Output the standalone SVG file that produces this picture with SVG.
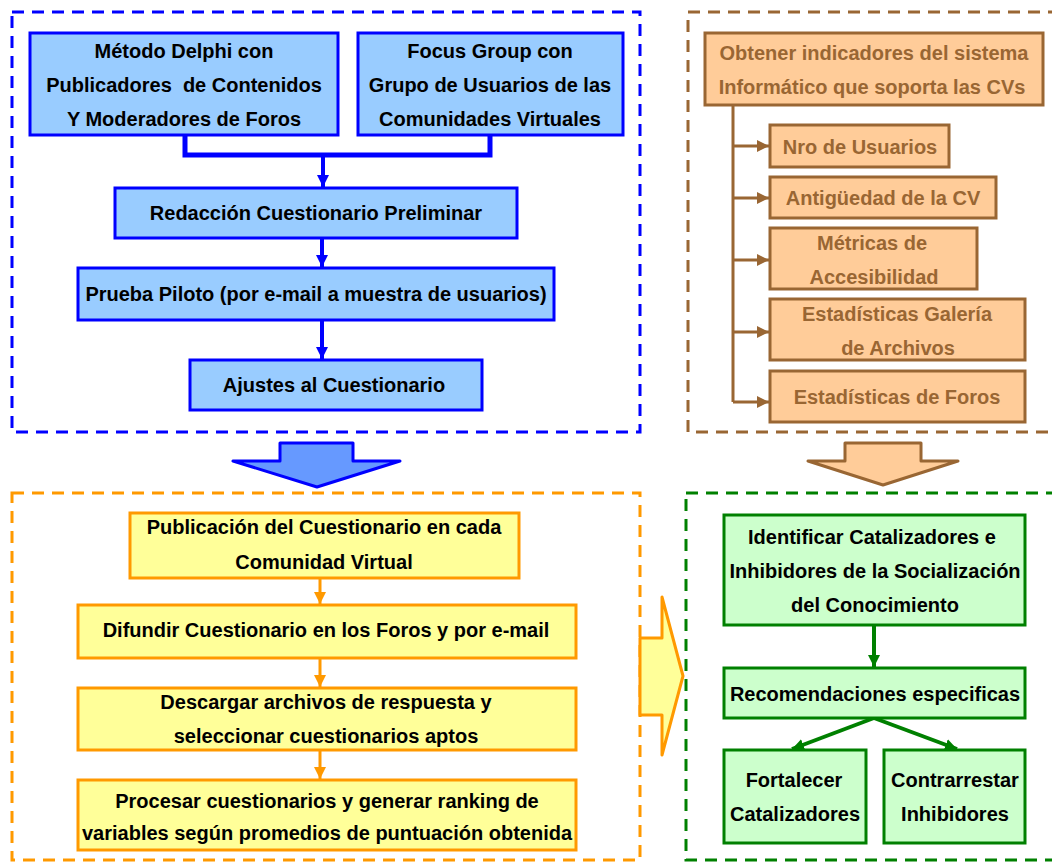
<svg xmlns="http://www.w3.org/2000/svg" width="1052" height="863" viewBox="0 0 1052 863">
<defs>
<style>
text{font-family:"Liberation Sans",Arial,sans-serif;font-weight:bold;font-size:20px;text-anchor:middle}
.fr{fill:none;stroke-width:3;stroke-dasharray:12 8}
.bn{fill:#99CCFF;stroke:#0000FF;stroke-width:3}
.yn{fill:#FFFF99;stroke:#FF9900;stroke-width:3}
.on{fill:#FFCC99;stroke:#996633;stroke-width:3}
.gn{fill:#CCFFCC;stroke:#008000;stroke-width:3}
.bt{fill:#000}
.ot{fill:#996633}
</style>
<marker id="ab" markerUnits="userSpaceOnUse" markerWidth="14" markerHeight="14" refX="12" refY="6" orient="auto"><path d="M0,0 L12,6 L0,12 z" fill="#0000FF"/></marker>
<marker id="ay" markerUnits="userSpaceOnUse" markerWidth="14" markerHeight="14" refX="12" refY="6" orient="auto"><path d="M0,0 L12,6 L0,12 z" fill="#FF9900"/></marker>
<marker id="ao" markerUnits="userSpaceOnUse" markerWidth="14" markerHeight="14" refX="12" refY="6" orient="auto"><path d="M0,0 L12,6 L0,12 z" fill="#996633"/></marker>
<marker id="ag" markerUnits="userSpaceOnUse" markerWidth="14" markerHeight="14" refX="12" refY="6" orient="auto"><path d="M0,0 L12,6 L0,12 z" fill="#008000"/></marker>
</defs>
<g id="frames">
<rect class="fr" x="12" y="12" width="628" height="420" stroke="#0000FF"/>
<rect class="fr" x="688" y="12" width="370" height="420" stroke="#996633"/>
<rect class="fr" x="12" y="493" width="628" height="367" stroke="#FF9900"/>
<rect class="fr" x="686" y="493" width="372" height="367" stroke="#008000"/>
</g>
<g id="bigarrows">
<polygon points="280,443 353,443 353,461 400,461 317,487 233,461 280,461" fill="#6699FF" stroke="#0000FF" stroke-width="3" stroke-linejoin="round"/>
<polygon points="845,443 921,443 921,461 958,461 883,485 808,461 845,461" fill="#FFCC99" stroke="#996633" stroke-width="3" stroke-linejoin="round"/>
<polygon points="640,638 662,638 662,597 683,676 662,755 662,715 640,715" fill="#FFFF99" stroke="#FF9900" stroke-width="3" stroke-linejoin="round"/>
</g>
<g id="connectors" fill="none">
<path d="M185,135 V155 H490 V135" stroke="#0000FF" stroke-width="5"/>
<line x1="323" y1="155" x2="323" y2="187" stroke="#0000FF" stroke-width="4" marker-end="url(#ab)"/>
<line x1="322" y1="238" x2="322" y2="267" stroke="#0000FF" stroke-width="4" marker-end="url(#ab)"/>
<line x1="322" y1="320" x2="322" y2="359" stroke="#0000FF" stroke-width="4" marker-end="url(#ab)"/>
<line x1="320" y1="578" x2="320" y2="604" stroke="#FF9900" stroke-width="3" marker-end="url(#ay)"/>
<line x1="320" y1="658" x2="320" y2="687" stroke="#FF9900" stroke-width="3" marker-end="url(#ay)"/>
<line x1="320" y1="750" x2="320" y2="779" stroke="#FF9900" stroke-width="3" marker-end="url(#ay)"/>
<path d="M733,105 V402" stroke="#996633" stroke-width="3"/>
<line x1="733" y1="146" x2="769" y2="146" stroke="#996633" stroke-width="3" marker-end="url(#ao)"/>
<line x1="733" y1="198" x2="769" y2="198" stroke="#996633" stroke-width="3" marker-end="url(#ao)"/>
<line x1="733" y1="260" x2="769" y2="260" stroke="#996633" stroke-width="3" marker-end="url(#ao)"/>
<line x1="733" y1="332" x2="769" y2="332" stroke="#996633" stroke-width="3" marker-end="url(#ao)"/>
<line x1="733" y1="402" x2="769" y2="402" stroke="#996633" stroke-width="3" marker-end="url(#ao)"/>
<line x1="874" y1="625" x2="874" y2="667" stroke="#008000" stroke-width="4" marker-end="url(#ag)"/>
<line x1="874" y1="718" x2="792" y2="749" stroke="#008000" stroke-width="4" marker-end="url(#ag)"/>
<line x1="874" y1="718" x2="957" y2="749" stroke="#008000" stroke-width="4" marker-end="url(#ag)"/>
</g>
<g id="n-delphi"><rect class="bn" x="30" y="33" width="308" height="102"/>
<text class="bt" x="184" y="58">Método Delphi con</text>
<text class="bt" x="184" y="92" xml:space="preserve">Publicadores  de Contenidos</text>
<text class="bt" x="184" y="126">Y Moderadores de Foros</text></g>
<g id="n-focus"><rect class="bn" x="358" y="33" width="265" height="102"/>
<text class="bt" x="490" y="58">Focus Group con</text>
<text class="bt" x="490" y="92">Grupo de Usuarios de las</text>
<text class="bt" x="490" y="126">Comunidades Virtuales</text></g>
<g id="n-redaccion"><rect class="bn" x="115" y="188" width="402" height="50"/>
<text class="bt" x="316" y="220">Redacción Cuestionario Preliminar</text></g>
<g id="n-prueba"><rect class="bn" x="78" y="268" width="476" height="52"/>
<text class="bt" x="316" y="301">Prueba Piloto (por e-mail a muestra de usuarios)</text></g>
<g id="n-ajustes"><rect class="bn" x="190" y="360" width="292" height="50"/>
<text class="bt" x="334" y="392">Ajustes al Cuestionario</text></g>
<g id="n-publicacion"><rect class="yn" x="130" y="513" width="389" height="65"/>
<text class="bt" x="324" y="534">Publicación del Cuestionario en cada</text>
<text class="bt" x="324" y="569">Comunidad Virtual</text></g>
<g id="n-difundir"><rect class="yn" x="78" y="605" width="498" height="53"/>
<text class="bt" x="326" y="637">Difundir Cuestionario en los Foros y por e-mail</text></g>
<g id="n-descargar"><rect class="yn" x="78" y="688" width="498" height="62"/>
<text class="bt" x="326" y="709">Descargar archivos de respuesta y</text>
<text class="bt" x="326" y="743">seleccionar cuestionarios aptos</text></g>
<g id="n-procesar"><rect class="yn" x="78" y="780" width="498" height="70"/>
<text class="bt" x="327" y="808">Procesar cuestionarios y generar ranking de</text>
<text class="bt" x="327" y="840">variables según promedios de puntuación obtenida</text></g>
<g id="n-obtener"><rect class="on" x="705" y="33" width="338" height="72"/>
<text class="ot" x="874" y="60">Obtener indicadores del sistema</text>
<text class="ot" x="872" y="94">Informático que soporta las CVs</text></g>
<g id="n-nro"><rect class="on" x="770" y="125" width="179" height="42"/>
<text class="ot" x="860" y="154">Nro de Usuarios</text></g>
<g id="n-antig"><rect class="on" x="770" y="177" width="226" height="41"/>
<text class="ot" x="883" y="205">Antigüedad de la CV</text></g>
<g id="n-metricas"><rect class="on" x="770" y="228" width="207" height="61"/>
<text class="ot" x="872" y="250">Métricas de</text>
<text class="ot" x="874" y="284">Accesibilidad</text></g>
<g id="n-galeria"><rect class="on" x="770" y="299" width="255" height="61"/>
<text class="ot" x="897" y="321">Estadísticas Galería</text>
<text class="ot" x="898" y="355">de Archivos</text></g>
<g id="n-foros"><rect class="on" x="770" y="371" width="255" height="51"/>
<text class="ot" x="897" y="404">Estadísticas de Foros</text></g>
<g id="n-identificar"><rect class="gn" x="724" y="515" width="301" height="110"/>
<text class="bt" x="872" y="544">Identificar Catalizadores e</text>
<text class="bt" x="875" y="578">Inhibidores de la Socialización</text>
<text class="bt" x="875" y="612">del Conocimiento</text></g>
<g id="n-recom"><rect class="gn" x="724" y="668" width="301" height="50"/>
<text class="bt" x="875" y="701">Recomendaciones especificas</text></g>
<g id="n-fortalecer"><rect class="gn" x="724" y="750" width="142" height="93"/>
<text class="bt" x="794" y="787">Fortalecer</text>
<text class="bt" x="795" y="821">Catalizadores</text></g>
<g id="n-contrarrestar"><rect class="gn" x="884" y="750" width="141" height="93"/>
<text class="bt" x="955" y="787">Contrarrestar</text>
<text class="bt" x="955" y="821">Inhibidores</text></g>
</svg>
